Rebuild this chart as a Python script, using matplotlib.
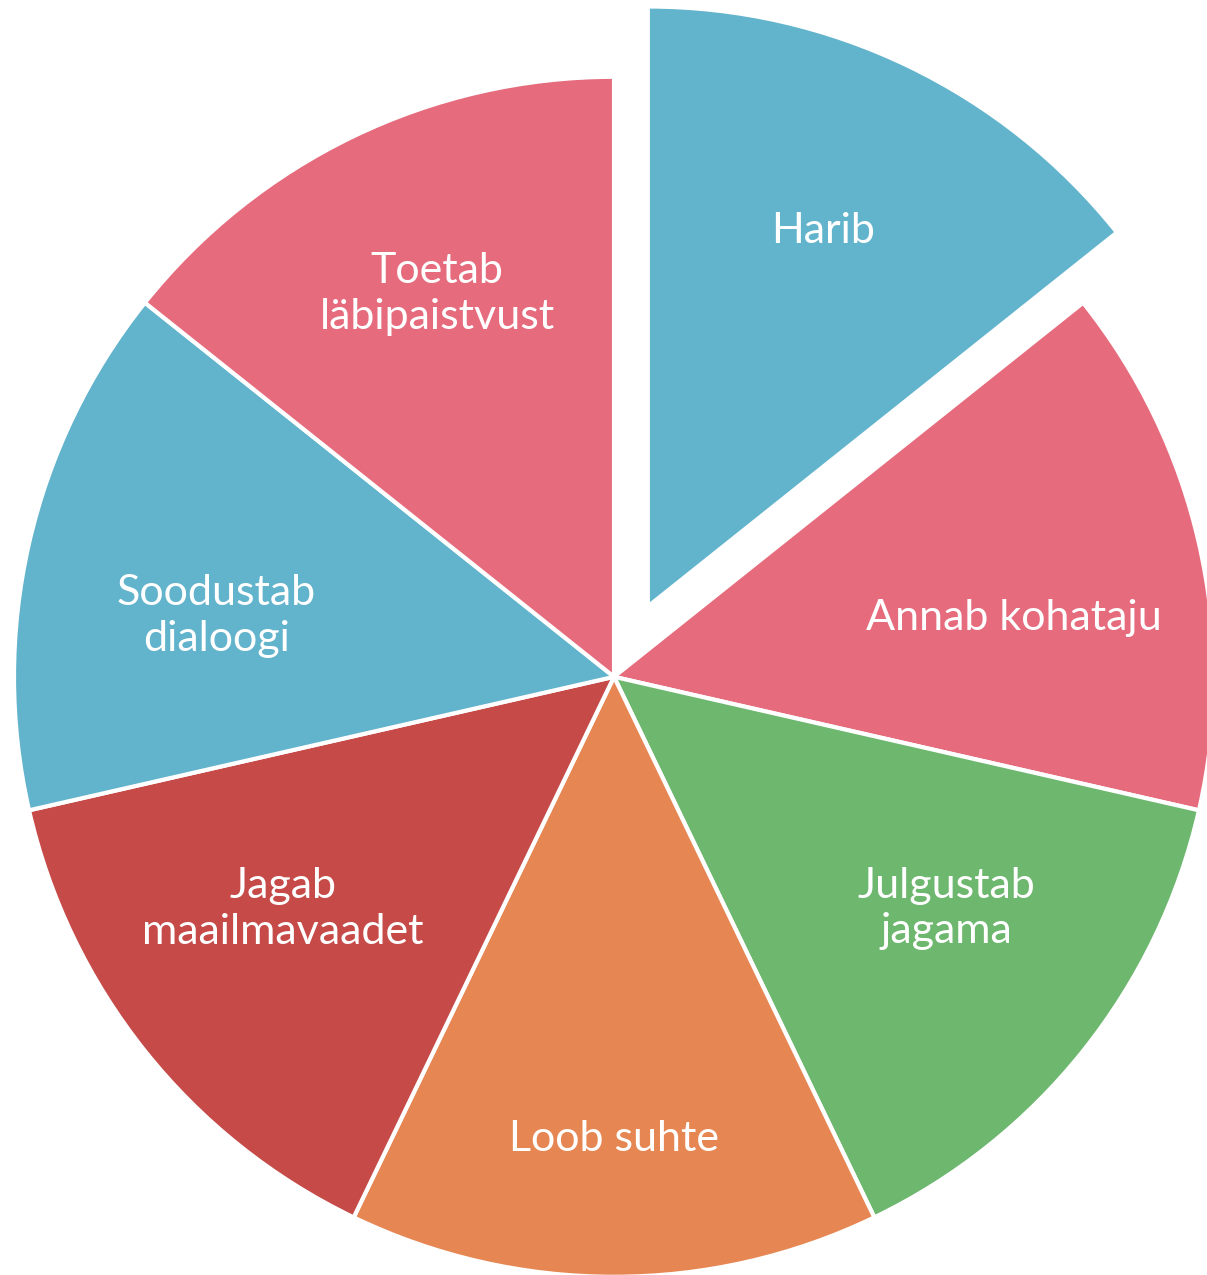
import matplotlib
matplotlib.use("Agg")
import matplotlib.pyplot as plt

# slices, clockwise from the top
labels = ["Harib", "Annab kohataju", "Julgustab\njagama", "Loob suhte",
          "Jagab\nmaailmavaadet", "Soodustab\ndialoogi", "Toetab\nläbipaistvust"]
values = [1, 1, 1, 1, 1, 1, 1]
colors = ["#62B3CC", "#E56B7D", "#6EB76F", "#E68753",
          "#C54A48", "#62B3CC", "#E56B7D"]
explode = [0.13, 0, 0, 0, 0, 0, 0]

fig = plt.figure(figsize=(12.07, 12.75), dpi=100)
ax = fig.add_axes([0, 0, 1, 1])

wedges, texts = ax.pie(values, labels=labels, colors=colors, explode=explode,
                       startangle=90, counterclock=False, labeldistance=0.68,
                       wedgeprops=dict(edgecolor="white", linewidth=3),
                       textprops=dict(color="white", fontsize=31,
                                      family=["Lato", "DejaVu Sans"],
                                      linespacing=1.25))

# small nudges so labels sit where the original put them
nudges = [(-0.003, 0.013), (0.003, -0.053), (0.022, 0.038), (0.0, -0.09),
          (-0.02, 0.037), (0.0, -0.05), (0.0, 0.025)]
for t, (dx, dy) in zip(texts, nudges):
    t.set_horizontalalignment("center")
    t.set_verticalalignment("center")
    x, y = t.get_position()
    t.set_position((x + dx, y + dy))

ax.set_xlim(-1.023, 0.988)
ax.set_ylim(-0.997, 1.128)
ax.set_aspect("equal")
ax.axis("off")

fig.savefig("out.png", dpi=100)
